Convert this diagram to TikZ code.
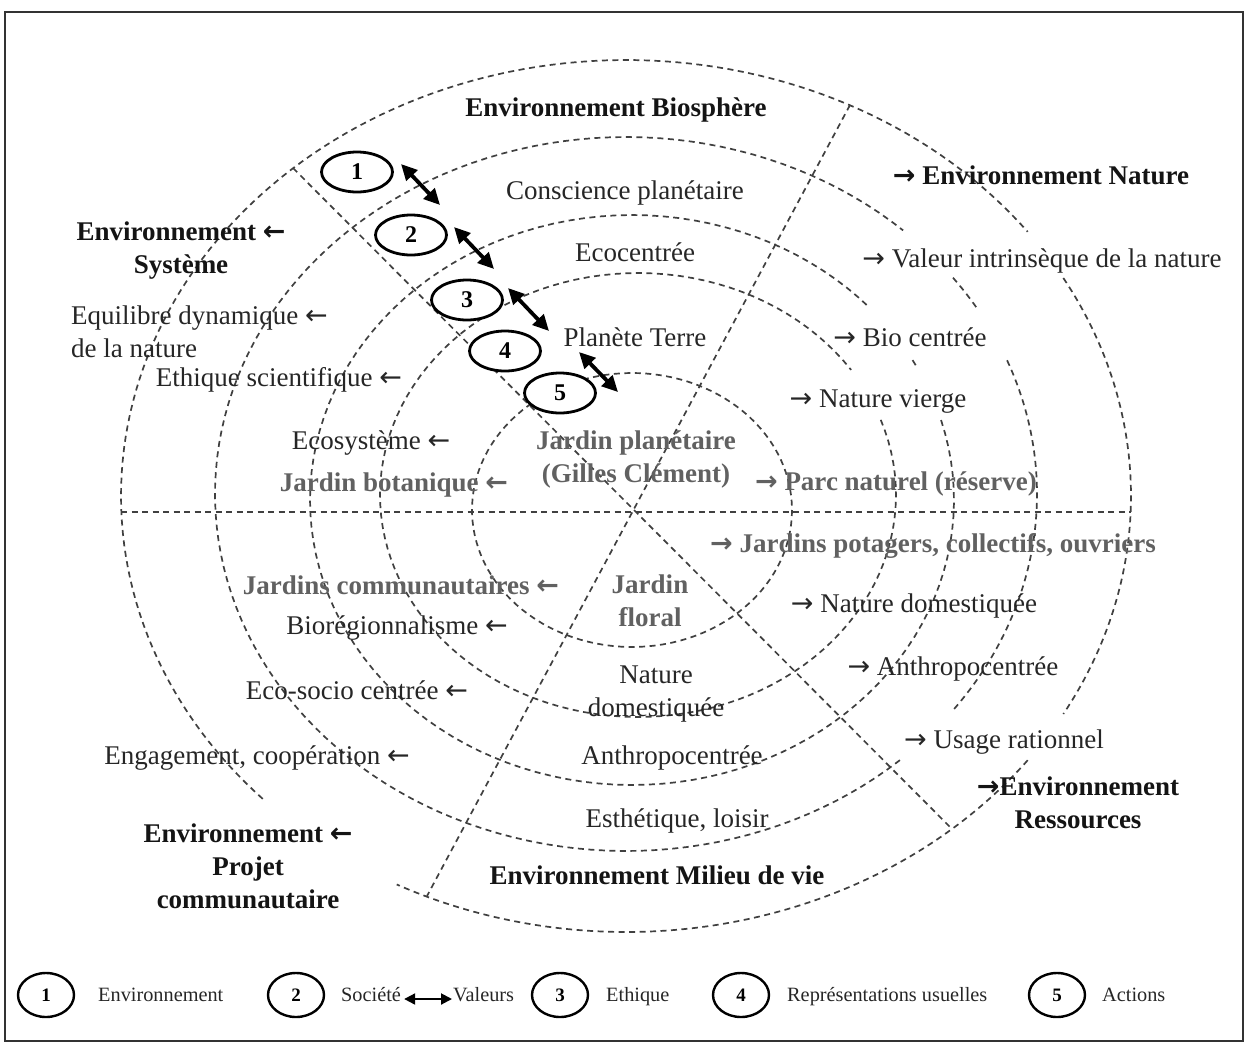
\documentclass[tikz,border=0pt]{standalone}
\usepackage{fontspec}
\setmainfont{Liberation Serif}
\newfontfamily\arrowfont{DejaVu Sans}
\newcommand\myra{{\arrowfont →}}
\newcommand\myla{{\arrowfont ←}}
\usetikzlibrary{arrows.meta,shapes.geometric}
\newcommand\ringarc[6]{\draw[ringline] plot[domain=#5:#6, samples=120] ({#1+#3*cos(\x)},{#2+#4*sin(\x)});}
\begin{document}
\begin{tikzpicture}[x=1pt,y=-1pt,
  ringline/.style={draw=black!75, line width=1.7pt, dash pattern=on 6pt off 4.5pt},
  frame/.style={draw=black!80, line width=2pt},
  reg/.style={text=black!85, font=\fontsize{27}{33}\selectfont, inner sep=0pt},
  bld/.style={text=black!92, font=\fontsize{27}{33}\selectfont\bfseries, inner sep=0pt},
  gry/.style={text=black!62, font=\fontsize{27}{33}\selectfont\bfseries, inner sep=0pt},
  one/.style={anchor=mid, yshift=-7pt},
  multi/.style={anchor=center, align=center},
  num/.style={ellipse, draw=black, line width=2.8pt, fill=white, minimum width=71pt, minimum height=40pt, inner sep=0pt, font=\fontsize{24}{24}\selectfont\bfseries},
  dbl/.style={line width=3.8pt, {Triangle[length=16pt,width=15pt]}-{Triangle[length=16pt,width=15pt]}},
  lnum/.style={ellipse, draw=black, line width=2.4pt, fill=white, minimum width=56pt, minimum height=44pt, inner sep=0pt, font=\fontsize{19}{19}\selectfont\bfseries},
  leg/.style={anchor=mid west, yshift=-4pt, inner sep=0pt, text=black!85, font=\fontsize{20.3}{24}\selectfont},
  legarrow/.style={line width=2pt, {Triangle[length=11pt,width=11pt]}-{Triangle[length=11pt,width=11pt]}}
]
\useasboundingbox (0,0) rectangle (1245,1047);
\draw[frame] (5,12) rectangle (1243,1041);

% concentric rings
\ringarc{632}{510}{160}{137}{0}{360}
\ringarc{638}{495}{258}{222}{-19.8}{325.7}
\ringarc{632}{500}{322}{285}{-29.4}{-27.4}
\ringarc{632}{500}{322}{285}{-16.3}{317.6}
\ringarc{626}{494}{411}{357}{-37.3}{-31}
\ringarc{626}{494}{411}{357}{-22}{37.6}
\ringarc{626}{494}{411}{357}{48.2}{312.4}
\ringarc{626}{496}{505}{436}{-30}{30}
\ringarc{626}{496}{505}{436}{37.3}{117}
\ringarc{626}{496}{505}{436}{136}{322.7}

% radial lines
\coordinate (hL) at (121,512); \coordinate (hR) at (1131,512);
\coordinate (dA) at (293,168); \coordinate (dB) at (952,829);
\coordinate (sA) at (850,105); \coordinate (sB) at (427,896);
\draw[ringline] (hL) -- (hR);
\draw[ringline] (dA) -- (dB);
\draw[ringline] (sA) -- (sB);

% labels
\node[bld, one] (tbio) at (616,107) {Environnement Biosphère};
\node[reg, one] (tcons) at (625,190) {Conscience planétaire};
\node[bld, one] (tnat) at (1041,175) {\myra{} Environnement Nature};
\node[bld, multi] (tsys) at (181,251) {Environnement \myla\\Système};
\node[reg, one] (teco) at (635,252) {Ecocentrée};
\node[reg, one] (tval) at (1042,258) {\myra{} Valeur intrinsèque de la nature};
\node[reg, anchor=west, align=left] (tequ) at (71,332) {Equilibre dynamique \myla\\de la nature};
\node[reg, one] (tpla) at (635,337) {Planète Terre};
\node[reg, one] (tbioc) at (910,337) {\myra{} Bio centrée};
\node[reg, one] (teth) at (279,377) {Ethique scientifique \myla};
\node[reg, one] (tvier) at (878,398) {\myra{} Nature vierge};
\node[reg, one] (tecos) at (371,440) {Ecosystème \myla};
\node[gry, multi] (tjpl) at (636,459) {Jardin planétaire\\(Gilles Clément)};
\node[gry, one] (tbot) at (394,482) {Jardin botanique \myla};
\node[gry, one] (tparc) at (896,481) {\myra{} Parc naturel (réserve)};
\node[gry, one] (tpot) at (933,543) {\myra{} Jardins potagers, collectifs, ouvriers};
\node[gry, one] (tcom) at (401,585) {Jardins communautaires \myla};
\node[gry, multi] (tflo) at (650,601) {Jardin\\floral};
\node[reg, one] (tdom) at (914,603) {\myra{} Nature domestiquée};
\node[reg, one] (tbior) at (397,625) {Biorégionnalisme \myla};
\node[reg, one] (tanth) at (953,666) {\myra{} Anthropocentrée};
\node[reg, multi] (tndom) at (656,694) {Nature\\domestiquée};
\node[reg, one] (tesc) at (357,690) {Eco-socio centrée \myla};
\node[reg, one] (tusa) at (1004,739) {\myra{} Usage rationnel};
\node[reg, one] (teng) at (257,755) {Engagement, coopération \myla};
\node[reg, one] (tanthc) at (672,755) {Anthropocentrée};
\node[bld, multi] (tres) at (1078,803) {\myra Environnement\\Ressources};
\node[reg, one] (test) at (677,818) {Esthétique, loisir};
\node[bld, multi] (tproj) at (248,866) {Environnement \myla\\Projet\\communautaire};
\node[bld, one] (tmil) at (657,875) {Environnement Milieu de vie};

% numbered ellipses
\node[num] (e1) at (357,172) {1};
\node[num] (e2) at (411,235) {2};
\node[num] (e3) at (467,300) {3};
\node[num] (e4) at (505,351) {4};
\node[num] (e5) at (560,393) {5};

% double arrows
\coordinate (a1s) at (401,164); \coordinate (a1e) at (440,205);
\coordinate (a2s) at (454,227); \coordinate (a2e) at (494,269);
\coordinate (a3s) at (508,288); \coordinate (a3e) at (549,331);
\coordinate (a4s) at (579,352); \coordinate (a4e) at (618,392);
\draw[dbl] (a1s) -- (a1e);
\draw[dbl] (a2s) -- (a2e);
\draw[dbl] (a3s) -- (a3e);
\draw[dbl] (a4s) -- (a4e);

% legend
\node[lnum] (l1) at (46,995) {1};
\node[leg] (l1t) at (98,995) {Environnement};
\node[lnum] (l2) at (296,995) {2};
\node[leg] (soc) at (341,995) {Société};
\node[leg] (val) at (453,995) {Valeurs};
\draw[legarrow] ([xshift=3pt]soc.mid east) -- ([xshift=-1pt]val.mid west);
\node[lnum] (l3) at (560,995) {3};
\node[leg] (l3t) at (606,995) {Ethique};
\node[lnum] (l4) at (741,995) {4};
\node[leg] (l4t) at (787,995) {Représentations usuelles};
\node[lnum] (l5) at (1057,995) {5};
\node[leg] (l5t) at (1102,995) {Actions};
\end{tikzpicture}
\end{document}
